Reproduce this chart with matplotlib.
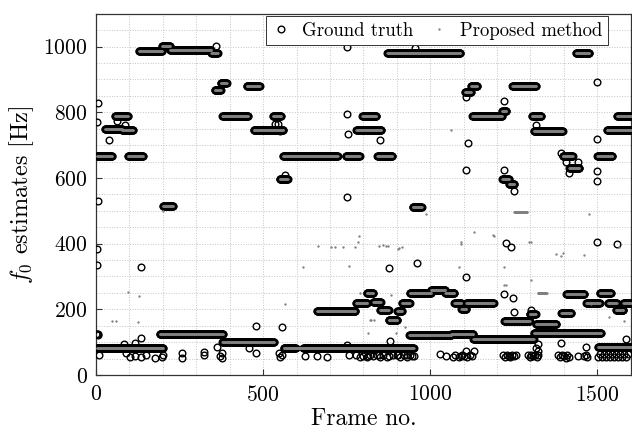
import numpy as np
import matplotlib
matplotlib.use('Agg')
import matplotlib.pyplot as plt
from matplotlib.ticker import MultipleLocator

plt.rcParams['font.family'] = 'serif'
plt.rcParams['font.serif'] = ['cmr10', 'DejaVu Serif']
plt.rcParams['mathtext.fontset'] = 'cm'
plt.rcParams['axes.formatter.use_mathtext'] = True

# f0 tracks (frame start, frame end, Hz) shared by ground truth and estimate
seg_start = [3, 190, 378, 561, 620, 661, 778, 810, 830, 850, 876, 902, 916, 938,
             1002, 1045, 1072, 1093, 1108, 937, 1063, 1129, 1311, 1502, 1222, 1298,
             1316, 1392, 1407, 1467, 1507, 1532, 1556, 1578,
             3, 27, 57, 78, 96, 128, 197, 221, 345, 355, 373, 378, 451, 472, 529,
             549, 559, 747, 779, 797, 842, 872, 1104, 1122, 1126, 1215, 1246, 1305,
             1311, 1216, 1236, 1396, 1416, 1436, 1500, 1529, 1559, 200, 947]
seg_end = [200, 380, 532, 597, 950, 776, 812, 830, 852, 876, 902, 916, 938, 1002,
           1045, 1072, 1093, 1108, 1190, 1063, 1129, 1310, 1511, 1600, 1298, 1316,
           1377, 1422, 1461, 1507, 1541, 1558, 1578, 1600,
           48, 78, 96, 111, 140, 197, 221, 345, 364, 373, 391, 455, 490, 560, 553,
           573, 723, 789, 854, 839, 887, 1090, 1122, 1141, 1215, 1228, 1317, 1332,
           1396, 1236, 1252, 1426, 1446, 1476, 1545, 1600, 1600, 230, 974]
seg_hz = [83, 124, 100, 81, 81, 194, 219, 249, 222, 198, 167, 196, 220, 250,
          259, 249, 220, 200, 220, 123, 126, 110, 128, 84, 165, 185,
          156, 188, 248, 220, 251, 220, 198, 220,
          668, 748, 788, 745, 666, 988, 1002, 989, 982, 868, 888, 790, 881, 745, 788,
          597, 666, 666, 745, 789, 666, 981, 862, 880, 789, 805, 881, 788,
          744, 598, 582, 666, 630, 981, 666, 745, 790, 516, 512]

# short tracks found only by the proposed method
est_seg_start = [597, 1252, 1322]
est_seg_end = [620, 1290, 1348]
est_seg_hz = [81, 496, 251]

# isolated ground-truth points
gt_frame = [1, 3, 5, 7, 7, 4, 39, 62, 87, 7, 4, 4, 133, 360, 535, 545, 550, 565,
            751, 751, 754, 751, 851, 878, 960, 953, 1107, 1112, 1107, 1108, 1222,
            1222, 1252, 1227, 1242, 1222, 1247, 1252, 1316, 1391, 1406, 1416, 1441,
            1500, 1500, 1500, 1500, 1500, 1560, 1302, 1321, 1321, 1391, 1586, 1467,
            1317, 84, 118, 133,
            9, 89, 103, 118, 133, 150, 176, 198, 200, 258, 258, 323, 323, 362, 372,
            377, 377, 457, 479, 479, 556, 556, 550, 548,
            624, 660, 690, 750, 756, 779, 789, 800, 810, 815, 820, 830, 840, 848,
            850, 860, 870, 878, 880, 890, 900, 905, 910, 920, 929, 930, 940, 944, 950,
            1028, 1048, 1067, 1075, 1085, 1092, 1095, 1100, 1107, 1110, 1118, 1125,
            1132, 1219, 1225, 1230, 1235, 1240, 1245, 1250, 1256, 1293, 1298, 1303,
            1308, 1313, 1318, 1323, 1383, 1388, 1395, 1400, 1405, 1410, 1416, 1443,
            1460, 1467, 1470, 1502, 1508, 1514, 1520, 1526, 1532, 1538, 1544, 1550,
            1556, 1562, 1568, 1574, 1580, 1586, 1592]
gt_hz = [124, 124, 123, 124, 828, 770, 716, 775, 762, 531, 383, 335, 328, 1003,
         765, 765, 742, 608, 999, 796, 734, 542, 716, 325, 340, 996, 847, 706, 625,
         299, 836, 623, 559, 401, 391, 247, 234, 193, 762, 676, 650, 615, 650, 891,
         718, 622, 592, 406, 399, 198, 95, 74, 97, 109, 84, 81, 95, 97, 112,
         61, 66, 54, 58, 56, 60, 52, 55, 60, 67, 52, 71, 61, 86, 58,
         66, 51, 81, 66, 149, 147, 61, 56, 66,
         57, 58, 54, 91, 60, 60, 55, 58, 55, 58, 60, 57, 60, 60,
         55, 60, 55, 57, 102, 60, 60, 61, 55, 60, 60, 55, 60, 57, 57,
         64, 59, 54, 60, 55, 59, 62, 58, 74, 56, 62, 57,
         74, 60, 56, 62, 58, 55, 60, 57, 60, 60, 55, 62,
         57, 60, 55, 60, 60, 55, 62, 57, 52, 60, 56, 57,
         58, 62, 55, 56, 63, 56, 63, 56, 63, 56, 63, 56,
         63, 56, 63, 56, 63, 56, 63]

# isolated estimates of the proposed method
est_frame = [97, 129, 47, 60, 125, 201, 664, 704, 714, 739, 774, 784, 787, 619,
             757, 564, 789, 819, 814, 884, 899, 924, 823, 833, 848, 858, 868, 873,
             903, 908, 916, 988, 1062, 1132, 1092, 1092, 1187, 1192, 1087, 1222,
             1222, 1227, 1301, 1301, 1296, 1376, 1391, 1396, 1461, 1476, 1481,
             1535, 1580, 1565]
est_hz = [254, 240, 165, 165, 160, 498, 393, 391, 391, 390, 391, 406, 422, 330,
          333, 217, 249, 166, 127, 244, 128, 147, 166, 166, 394, 396, 392, 393,
          384, 386, 391, 491, 745, 435, 399, 406, 425, 424, 330, 330,
          274, 274, 290, 406, 405, 369, 363, 371, 366, 491, 216,
          178, 163, 391]


def expand(starts, ends, values):
    fr, hz = [], []
    for s, e, v in zip(starts, ends, values):
        n = np.arange(s, e + 1)
        fr.append(n)
        hz.append(np.full(len(n), v, dtype=float))
    return np.concatenate(fr), np.concatenate(hz)


trk_f, trk_h = expand(seg_start, seg_end, seg_hz)
ext_f, ext_h = expand(est_seg_start, est_seg_end, est_seg_hz)

gt_f = np.concatenate([trk_f, gt_frame])
gt_h = np.concatenate([trk_h, gt_hz])
est_f = np.concatenate([trk_f, ext_f, est_frame])
est_h = np.concatenate([trk_h, ext_h, est_hz])

fig = plt.figure(figsize=(6.32, 4.32), dpi=100)
ax = fig.add_axes([0.152, 0.132, 0.846, 0.836])

ax.plot(gt_f, gt_h, 'o', ms=4.8, mfc='none', mec='k', mew=1.0,
        label='Ground truth', zorder=3)
ax.plot(est_f, est_h, '.', ms=3.4, color='#808080', mew=0,
        label='Proposed method', zorder=4)

ax.set_xlim(0, 1600)
ax.set_ylim(0, 1100)
ax.xaxis.set_major_locator(MultipleLocator(500))
ax.xaxis.set_minor_locator(MultipleLocator(100))
ax.yaxis.set_major_locator(MultipleLocator(200))
ax.yaxis.set_minor_locator(MultipleLocator(50))
ax.grid(True, which='both', linestyle=':', color='#c4c4c4', linewidth=0.7)
ax.set_axisbelow(True)
ax.tick_params(which='major', direction='in', length=4, labelsize=15.5,
               top=False, right=False, color='#333333')
ax.tick_params(axis='x', pad=7)
ax.tick_params(axis='y', pad=6)
ax.tick_params(which='minor', length=0)
for s in ax.spines.values():
    s.set_color('#333333')
    s.set_linewidth(0.9)

ax.set_xlabel('Frame no.', fontsize=17, labelpad=2)
ax.set_ylabel('$f_0$ estimates [Hz]', fontsize=17.5, labelpad=5)

leg = ax.legend(loc='upper right', bbox_to_anchor=(0.957, 0.994), ncol=2,
                fontsize=13.5, frameon=True, fancybox=False, edgecolor='#333333',
                framealpha=1, borderpad=0.3, handlelength=1.0,
                handletextpad=0.6, columnspacing=0.9, borderaxespad=0.0)
leg.get_frame().set_linewidth(0.7)

fig.savefig('out.png', dpi=100)
